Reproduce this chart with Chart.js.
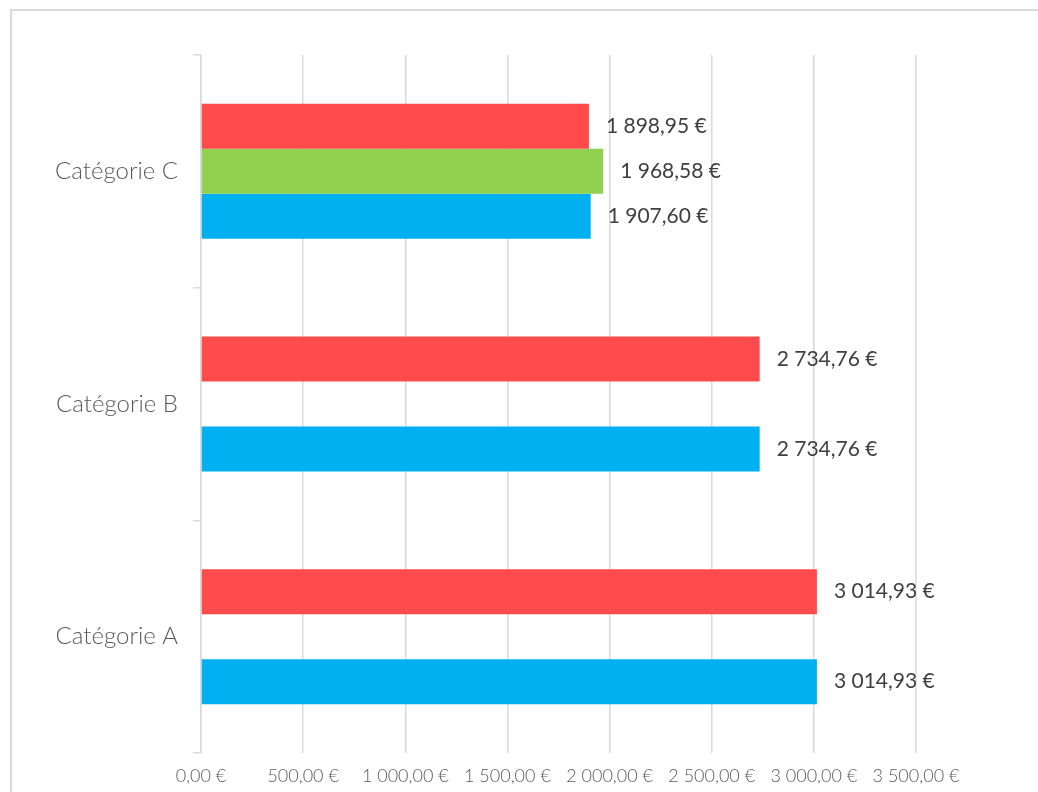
<!DOCTYPE html>
<html lang="fr">
<head>
<meta charset="utf-8">
<script src="https://cdn.jsdelivr.net/npm/chart.js@4"></script>
<style>
  html, body { margin: 0; padding: 0; background: #fff; overflow: hidden; }
  #frame { position: absolute; left: 10px; top: 9px; width: 1200px; height: 1000px; border: 2px solid #d9d9d9; }
  #wrap { position: absolute; left: 0; top: 0; width: 1038px; height: 792px; }
</style>
</head>
<body>
<div id="frame"></div>
<div id="wrap"><canvas id="chart"></canvas></div>
<script>
// données
const categories = ['Catégorie C', 'Catégorie B', 'Catégorie A'];
const serie1 = [1898.95, 2734.76, 3014.93];   // rouge
const serie2 = [1968.58, null, null];         // vert
const serie3 = [1907.60, 2734.76, 3014.93];   // bleu
const xTicks = [0, 500, 1000, 1500, 2000, 2500, 3000, 3500];

const FONT = 'Lato, "Noto Sans", sans-serif';

function euro(v) {
    const parts = v.toFixed(2).split('.');
    const ent = parts[0].replace(/\B(?=(\d{3})+(?!\d))/g, ' ');
    return ent + ',' + parts[1] + ' €';
}

// étiquettes de valeur à droite des barres
const valueLabels = {
    id: 'valueLabels',
    afterDatasetsDraw(chart) {
        const ctx = chart.ctx;
        ctx.save();
        ctx.font = '21px ' + FONT;
        ctx.fillStyle = '#404040';
        ctx.textAlign = 'left';
        ctx.textBaseline = 'middle';
        chart.data.datasets.forEach((ds, i) => {
            chart.getDatasetMeta(i).data.forEach((bar, j) => {
                const v = ds.data[j];
                if (v == null) return;
                ctx.fillText(euro(v), bar.x + 17, bar.y);
            });
        });
        ctx.restore();
    }
};

new Chart(document.getElementById('chart'), {
    type: 'bar',
    data: {
        labels: categories,
        datasets: [
            { label: 'Série 1', data: serie1, backgroundColor: '#ff4b4b' },
            { label: 'Série 2', data: serie2, backgroundColor: '#92d050' },
            { label: 'Série 3', data: serie3, backgroundColor: '#00b0f0' }
        ]
    },
    options: {
        indexAxis: 'y',
        responsive: true,
        maintainAspectRatio: false,
        animation: false,
        layout: { padding: { top: 55, right: 122, left: 0, bottom: 0 } },
        datasets: { bar: { categoryPercentage: 0.58, barPercentage: 1 } },
        plugins: { legend: { display: false }, tooltip: { enabled: false } },
        scales: {
            x: {
                min: 0,
                max: 3500,
                afterBuildTicks: (scale) => { scale.ticks = xTicks.map(v => ({ value: v })); },
                afterFit: (scale) => { scale.height = 39; },
                grid: { color: '#d9d9d9', lineWidth: 1.5, drawTicks: false },
                border: { display: false },
                ticks: {
                    padding: 12,
                    color: '#595959',
                    font: { family: FONT, size: 18, weight: 300 },
                    maxRotation: 0,
                    autoSkip: false,
                    callback: (v) => euro(v)
                }
            },
            y: {
                afterFit: (scale) => { scale.width = 201; },
                grid: { drawOnChartArea: false, drawTicks: true, tickLength: 8, color: '#d9d9d9', lineWidth: 1.5 },
                border: { display: true, color: '#d9d9d9', width: 1.5 },
                ticks: {
                    padding: 15,
                    color: '#595959',
                    font: { family: FONT, size: 24, weight: 300 }
                }
            }
        }
    },
    plugins: [valueLabels]
});
</script>
</body>
</html>
